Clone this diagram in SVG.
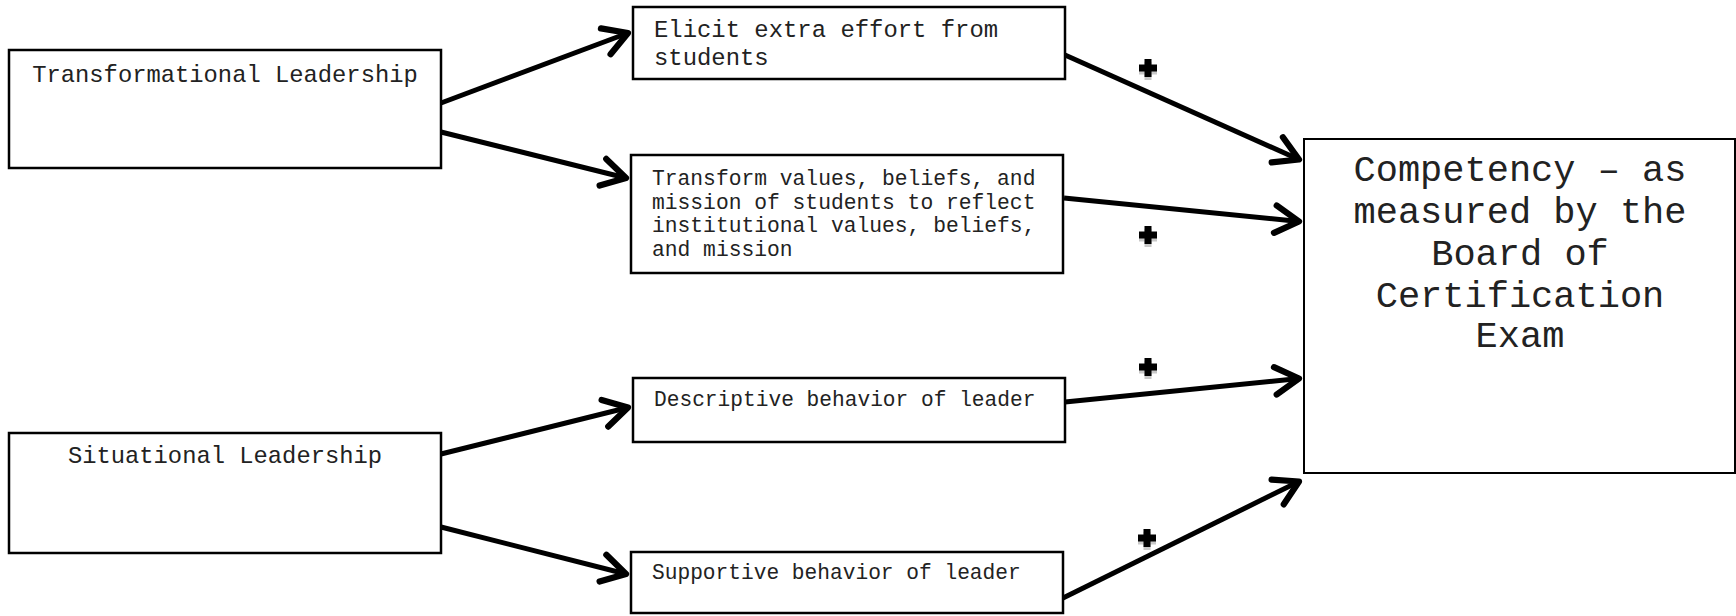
<svg xmlns="http://www.w3.org/2000/svg" width="1736" height="616" viewBox="0 0 1736 616">
  <style>
    .box { fill: #fff; stroke: #000; stroke-width: 2.5; }
    .big { fill: #fff; stroke: #000; stroke-width: 2; }
    .lbl { font-family: "Liberation Mono", "Courier New", monospace; fill: #222; }
    .link { stroke: #000; stroke-width: 5; fill: none; marker-end: url(#chev); }
    .plus { fill: #000; }
    .plus-sh { fill: #c8c8c8; }
  </style>
  <defs>
    <marker id="chev" markerUnits="userSpaceOnUse" markerWidth="40" markerHeight="40" viewBox="-24 -16 28 32" refX="0" refY="0" orient="auto" overflow="visible">
      <path d="M-19,-11 L0,0 L-19,11" fill="none" stroke="#000" stroke-width="5" stroke-linecap="round" stroke-linejoin="round"/>
    </marker>
    <path id="cross" d="M-3.5,-9 h7 v5.5 h5.5 v7 h-5.5 v5.5 h-7 v-5.5 h-5.5 v-7 h5.5 z"/>
  </defs>

  <!-- connectors -->
  <g id="connectors">
    <line class="link" x1="441" y1="103" x2="628" y2="33"/>
    <line class="link" x1="441" y1="132" x2="626" y2="178"/>
    <line class="link" x1="441" y1="454" x2="628" y2="407.5"/>
    <line class="link" x1="441" y1="527" x2="626" y2="574"/>
    <line class="link" x1="1065" y1="55" x2="1299" y2="159.5"/>
    <line class="link" x1="1064" y1="198" x2="1299" y2="221.5"/>
    <line class="link" x1="1065" y1="402" x2="1299" y2="378.5"/>
    <line class="link" x1="1063" y1="598" x2="1299" y2="481.5"/>
  </g>

  <!-- plus signs on the links -->
  <g id="signs">
    <use href="#cross" class="plus-sh" x="1148" y="71"/>
    <use href="#cross" class="plus" x="1148" y="68"/>
    <use href="#cross" class="plus-sh" x="1148" y="238"/>
    <use href="#cross" class="plus" x="1148" y="235"/>
    <use href="#cross" class="plus-sh" x="1148" y="370"/>
    <use href="#cross" class="plus" x="1148" y="367"/>
    <use href="#cross" class="plus-sh" x="1147" y="541"/>
    <use href="#cross" class="plus" x="1147" y="538"/>
  </g>

  <g id="transformational">
    <rect class="box" x="9" y="50" width="432" height="118"/>
    <text class="lbl" x="225" y="82" font-size="23.8" text-anchor="middle">Transformational Leadership</text>
  </g>

  <g id="situational">
    <rect class="box" x="9" y="433" width="432" height="120"/>
    <text class="lbl" x="225" y="463" font-size="23.8" text-anchor="middle">Situational Leadership</text>
  </g>

  <g id="elicit">
    <rect class="box" x="633" y="7" width="432" height="72"/>
    <text class="lbl" x="654" font-size="23.9"><tspan x="654" y="37">Elicit extra effort from</tspan><tspan x="654" y="65">students</tspan></text>
  </g>

  <g id="transform">
    <rect class="box" x="631" y="155" width="432" height="118"/>
    <text class="lbl" font-size="21.3"><tspan x="652" y="185">Transform values, beliefs, and</tspan><tspan x="652" y="208.5">mission of students to reflect</tspan><tspan x="652" y="232">institutional values, beliefs,</tspan><tspan x="652" y="256">and mission</tspan></text>
  </g>

  <g id="descriptive">
    <rect class="box" x="633" y="378" width="432" height="64"/>
    <text class="lbl" x="654" y="406" font-size="21.2">Descriptive behavior of leader</text>
  </g>

  <g id="supportive">
    <rect class="box" x="631" y="552" width="432" height="61"/>
    <text class="lbl" x="652" y="579" font-size="21.2">Supportive behavior of leader</text>
  </g>

  <g id="competency">
    <rect class="big" x="1304" y="139" width="431" height="334"/>
    <text class="lbl" font-size="37" text-anchor="middle"><tspan x="1520" y="181">Competency – as</tspan><tspan x="1520" y="223">measured by the</tspan><tspan x="1520" y="265">Board of</tspan><tspan x="1520" y="307">Certification</tspan><tspan x="1520" y="347">Exam</tspan></text>
  </g>
</svg>
